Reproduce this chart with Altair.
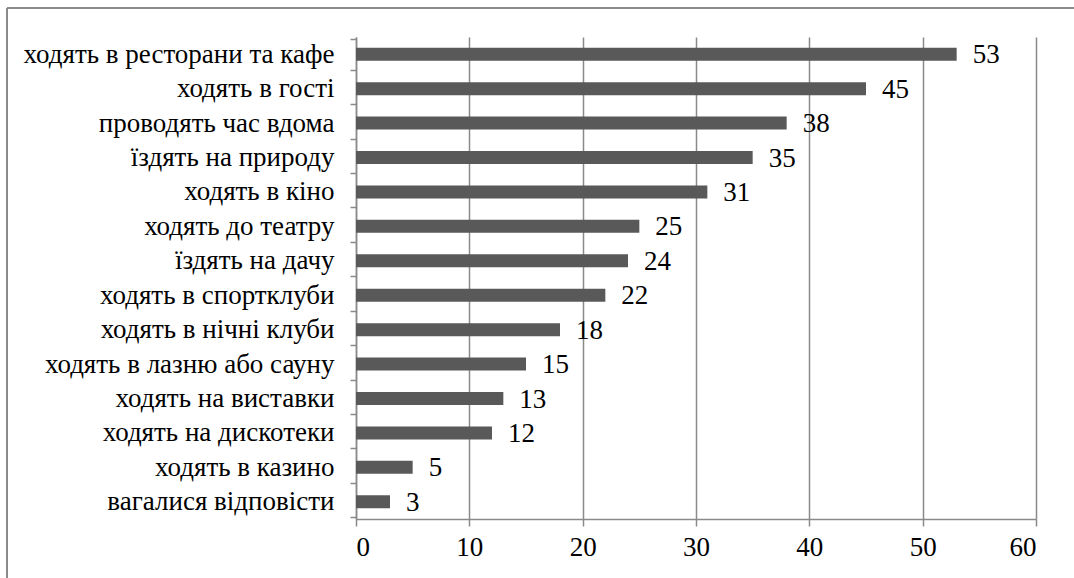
import altair as alt
import pandas as pd

# Leisure activities (share of respondents, %)
activities = [
    "ходять в ресторани та кафе",
    "ходять в гості\u00a0",
    "проводять час вдома",
    "їздять на природу\u00a0",
    "ходять в кіно",
    "ходять до театру",
    "їздять на дачу\u00a0",
    "ходять в спортклуби",
    "ходять в нічні клуби\u00a0",
    "ходять в лазню або сауну\u00a0",
    "ходять на виставки\u00a0",
    "ходять на дискотеки\u00a0",
    "ходять в казино\u00a0",
    "вагалися відповісти",
]
shares = [53, 45, 38, 35, 31, 25, 24, 22, 18, 15, 13, 12, 5, 3]
x_ticks = [0, 10, 20, 30, 40, 50, 60]

df = pd.DataFrame({"activity": activities, "share": shares})

FONT = "'Times New Roman', 'Liberation Serif', 'DejaVu Serif', serif"
GRID = "#8a8a8a"
BAR = "#595959"
FS = 27

y_enc = alt.Y(
    "activity:N",
    sort=activities,
    title=None,
    axis=alt.Axis(
        tickBand="extent",
        domainColor=GRID,
        domainWidth=1.5,
        tickColor=GRID,
        tickWidth=1.5,
        tickSize=6,
        labelPadding=16,
        labelFont=FONT,
        labelFontSize=FS,
        labelColor="#000000",
        labelLimit=400,
        grid=False,
    ),
)
x_enc = alt.X(
    "share:Q",
    title=None,
    scale=alt.Scale(domain=[0, 60], nice=False),
    axis=alt.Axis(
        values=x_ticks,
        grid=True,
        gridColor=GRID,
        gridWidth=1.5,
        domainColor=GRID,
        domainWidth=1.5,
        tickColor=GRID,
        tickWidth=1.5,
        tickSize=7,
        labelPadding=8,
        labelFont=FONT,
        labelFontSize=FS,
        labelColor="#000000",
    ),
)

base = alt.Chart(df)

bars = base.mark_bar(color=BAR, size=13).encode(x=x_enc, y=y_enc)

values = base.mark_text(
    align="left", baseline="middle", dx=16, dy=1, font=FONT, fontSize=FS, color="#000000"
).encode(x="share:Q", y=alt.Y("activity:N", sort=activities), text="share:Q")

# outer frame of the figure (left and top edges)
frame_left = alt.Chart(df).mark_rule(color=GRID, strokeWidth=1.5).encode(
    x=alt.value(-349), y=alt.value(-29), y2=alt.value(700)
)
frame_top = alt.Chart(df).mark_rule(color=GRID, strokeWidth=1.5).encode(
    x=alt.value(-349), x2=alt.value(900), y=alt.value(-29)
)

chart = (
    alt.layer(frame_left, frame_top, bars, values)
    .properties(
        width=680,
        height=482,
        padding={"left": 356, "top": 37, "right": 38, "bottom": 59},
        autosize=alt.AutoSizeParams(type="none"),
        background="white",
    )
    .configure_view(stroke=None)
)

chart.save("out.html", embed_options={"renderer": "svg", "actions": False})
